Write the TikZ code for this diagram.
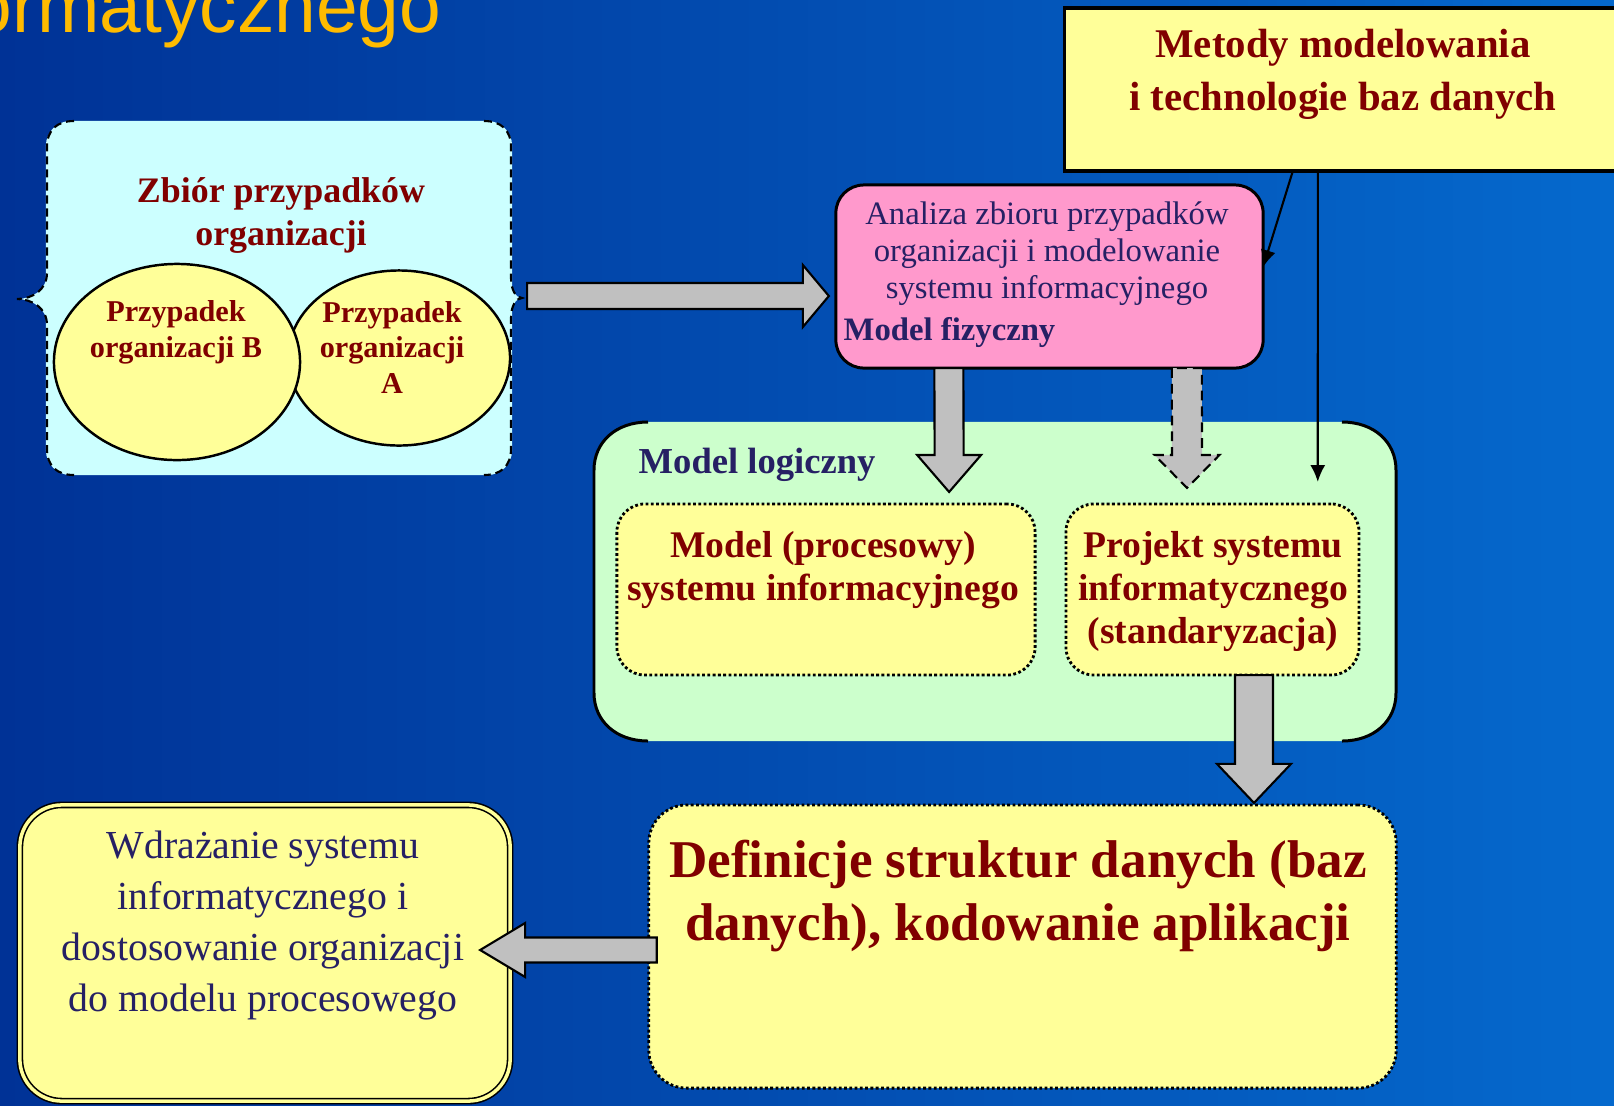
\documentclass[tikz,border=0pt]{standalone}
\usepackage{fontspec}
\setmainfont{Liberation Serif}
\newfontfamily\titlefont{Liberation Sans}
\usetikzlibrary{calc,arrows.meta,shapes.geometric}

% Block arrows: [style] {start} {tip} {shaft half} {head half} {head length}
\newcommand{\arrowright}[6][]{%
  \draw[blockarrow,#1] ($(#2)+(0,-#4)$) -- ($(#3)+(-#6,-#4)$) -- ($(#3)+(-#6,-#5)$) -- (#3)
    -- ($(#3)+(-#6,#5)$) -- ($(#3)+(-#6,#4)$) -- ($(#2)+(0,#4)$) -- cycle;}
\newcommand{\arrowleft}[6][]{%
  \draw[blockarrow,#1] ($(#2)+(0,-#4)$) -- ($(#3)+(#6,-#4)$) -- ($(#3)+(#6,-#5)$) -- (#3)
    -- ($(#3)+(#6,#5)$) -- ($(#3)+(#6,#4)$) -- ($(#2)+(0,#4)$) -- cycle;}
\newcommand{\arrowdown}[6][]{%
  \draw[blockarrow,#1] ($(#2)+(-#4,0)$) -- ($(#3)+(-#4,-#6)$) -- ($(#3)+(-#5,-#6)$) -- (#3)
    -- ($(#3)+(#5,-#6)$) -- ($(#3)+(#4,-#6)$) -- ($(#2)+(#4,0)$) -- cycle;}

\begin{document}
\begin{tikzpicture}[x=0.01cm, y=-0.01cm,
    box/.style={rectangle, inner sep=0pt, outer sep=0pt},
    blockarrow/.style={fill=arrowgray, draw=black, line width=0.6pt, line join=miter},
    thinarrow/.style={draw=black, line width=0.6pt, -{Latex[length=4.8pt, width=4.3pt]}},
    dotborder/.style={draw=black, line width=0.8pt, dash pattern=on 0.8pt off 0.7pt},
    redtext/.style={text=darkred, align=center, inner sep=0pt, anchor=base},
    navytext/.style={text=navy, align=center, inner sep=0pt, anchor=base}]

    % Colors
    \definecolor{bgleft}{RGB}{0,50,150}
    \definecolor{bgright}{RGB}{5,105,205}
    \definecolor{titleyellow}{RGB}{255,187,0}
    \definecolor{cyanarea}{RGB}{204,255,255}
    \definecolor{yellowarea}{RGB}{255,255,153}
    \definecolor{pinkarea}{RGB}{255,153,204}
    \definecolor{greenarea}{RGB}{204,255,204}
    \definecolor{arrowgray}{RGB}{192,192,192}
    \definecolor{darkred}{RGB}{128,0,0}
    \definecolor{navy}{RGB}{38,32,100}

    % Background
    \useasboundingbox (0,0) rectangle (1614,1105);
    \shade[left color=bgleft, right color=bgright] (0,0) rectangle (1614,1105);
    \node[anchor=base west, inner sep=0pt, text=titleyellow, font=\titlefont\fontsize{21.3}{24}\selectfont] (title) at (-30,32) {ormatycznego};

    % Set of cases (brace box)
    \node[box, fill=cyanarea, rounded corners=0.25cm, minimum width=4.66cm, minimum height=3.54cm] (zbiorbox) at (279,298) {};
    \fill[cyanarea] (47,273) .. controls (47,290) and (32,299) .. (17,299) .. controls (32,299) and (47,308) .. (47,325) -- cycle;
    \fill[cyanarea] (511,278) .. controls (511,290) and (516,298) .. (522,298) .. controls (516,298) and (511,306) .. (511,318) -- cycle;
    \draw[line width=0.6pt, dash pattern=on 2.3pt off 1.4pt]
      (74,121) .. controls (57,121) and (47,130) .. (47,147) -- (47,273)
      .. controls (47,290) and (32,299) .. (17,299) .. controls (32,299) and (47,308) .. (47,325)
      -- (47,449) .. controls (47,466) and (57,475) .. (74,475);
    \draw[line width=0.6pt, dash pattern=on 2.3pt off 1.4pt]
      (484,121) .. controls (501,121) and (511,130) .. (511,147) -- (511,278)
      .. controls (511,290) and (516,298) .. (522,298) .. controls (516,298) and (511,306) .. (511,318)
      -- (511,449) .. controls (511,466) and (501,475) .. (484,475);
    % (multi-line nodes sit on the baseline of their last line)
    \node[redtext, font=\fontsize{10.2}{12}\selectfont\bfseries] (zbior) at (281,245) {Zbiór przypadków\\organizacji};
    \node[ellipse, draw=black, line width=0.7pt, fill=yellowarea, inner sep=0pt, minimum width=2.22cm, minimum height=1.75cm] (caseA) at (399,358) {};
    \node[ellipse, draw=black, line width=0.7pt, fill=yellowarea, inner sep=0pt, minimum width=2.46cm, minimum height=1.96cm] (caseB) at (177,362) {};
    \node[redtext, font=\fontsize{8.6}{10}\selectfont\bfseries] (caseBtext) at (176,357) {Przypadek\\organizacji B};
    \node[redtext, font=\fontsize{8.6}{10}\selectfont\bfseries] (caseAtext) at (392,393) {Przypadek\\organizacji\\A};

    % Methods box
    \node[box, draw=black, line width=0.9pt, fill=yellowarea, minimum width=5.55cm, minimum height=1.63cm] (metodybox) at (1342.5,89.5) {};
    \node[redtext, font=\fontsize{11.6}{14.8}\selectfont\bfseries] (metody) at (1343,110) {Metody modelowania\\i technologie baz danych};

    % Analysis box
    \node[box, draw=black, line width=0.85pt, fill=pinkarea, rounded corners=0.28cm, minimum width=4.27cm, minimum height=1.83cm] (pinkbox) at (1049.5,276.5) {};
    \node[navytext, font=\fontsize{9.3}{10.5}\selectfont] (analiza) at (1047,298) {Analiza zbioru przypadków\\organizacji i modelowanie\\systemu informacyjnego};
    \node[navytext, anchor=base west, font=\fontsize{9.3}{10.5}\selectfont\bfseries] (fizyczny) at (843,340) {Model fizyczny};

    % Logical model (bracket box)
    \node[box, fill=greenarea, rounded corners=0.5cm, minimum width=8.02cm, minimum height=3.19cm] (logiczny) at (995,581.5) {};
    \draw[line width=0.85pt] (648,422) .. controls (616,422) and (594,442) .. (594,470) -- (594,693)
      .. controls (594,721) and (616,741) .. (648,741);
    \draw[line width=0.85pt] (1342,422) .. controls (1374,422) and (1396,442) .. (1396,470) -- (1396,693)
      .. controls (1396,721) and (1374,741) .. (1342,741);
    \node[navytext, anchor=base west, font=\fontsize{10.4}{12}\selectfont\bfseries] (logicznytext) at (638,473) {Model logiczny};
    \node[box, dotborder, fill=yellowarea, rounded corners=0.28cm, minimum width=4.18cm, minimum height=1.71cm] (procesbox) at (826,589.5) {};
    \node[redtext, font=\fontsize{10.7}{12.2}\selectfont\bfseries] (procestext) at (823,600) {Model (procesowy)\\systemu informacyjnego};
    \node[box, dotborder, fill=yellowarea, rounded corners=0.28cm, minimum width=2.93cm, minimum height=1.71cm] (projektbox) at (1212.5,589.5) {};
    \node[redtext, font=\fontsize{10.7}{12.2}\selectfont\bfseries] (projekttext) at (1213,643) {Projekt systemu\\informatycznego\\(standaryzacja)};

    % Data definitions and deployment
    \node[box, dotborder, fill=yellowarea, rounded corners=0.38cm, minimum width=7.47cm, minimum height=2.83cm] (definicjebox) at (1022.5,946.5) {};
    \node[redtext, font=\fontsize{15.1}{17.9}\selectfont\bfseries] (definicje) at (1018,940) {Definicje struktur danych (baz\\danych), kodowanie aplikacji};
    \node[box, draw=black, line width=0.45pt, double=yellowarea, double distance=1pt, fill=yellowarea, rounded corners=0.42cm, minimum width=4.9cm, minimum height=2.96cm] (wdrazaniebox) at (265,953) {};
    \node[navytext, font=\fontsize{11.3}{14.5}\selectfont] (wdrazanie) at (263,1011) {Wdrażanie systemu\\informatycznego i\\dostosowanie organizacji\\do modelu procesowego};

    % Arrows
    \arrowright{$(zbiorbox.east)+(15,-2)$}{$(pinkbox.west)+(-7,19.5)$}{13}{31}{26}
    \arrowdown{$(pinkbox.south west)+(113,0)$}{$(procesbox.north east)+(-86,-12)$}{14.5}{32}{37}
    \arrowdown[dash pattern=on 2.8pt off 1.7pt]{$(pinkbox.south west)+(351,0)$}{$(projektbox.north)+(-25.5,-16)$}{15}{32.5}{33}
    \arrowdown{$(projektbox.south)+(41.5,0)$}{$(definicjebox.north)+(231.5,-2)$}{19}{37}{39}
    \arrowleft{$(definicjebox.west)+(8,3.5)$}{$(wdrazaniebox.east)+(-30,-3)$}{12.5}{27}{45}
    \draw[thinarrow] ($(metodybox.south west)+(228,0)$) -- ($(pinkbox.east)+(0,-9.5)$);
    \draw[thinarrow] ($(metodybox.south west)+(253,0)$) -- ($(logiczny.north west)+(724,60)$);

\end{tikzpicture}
\end{document}
